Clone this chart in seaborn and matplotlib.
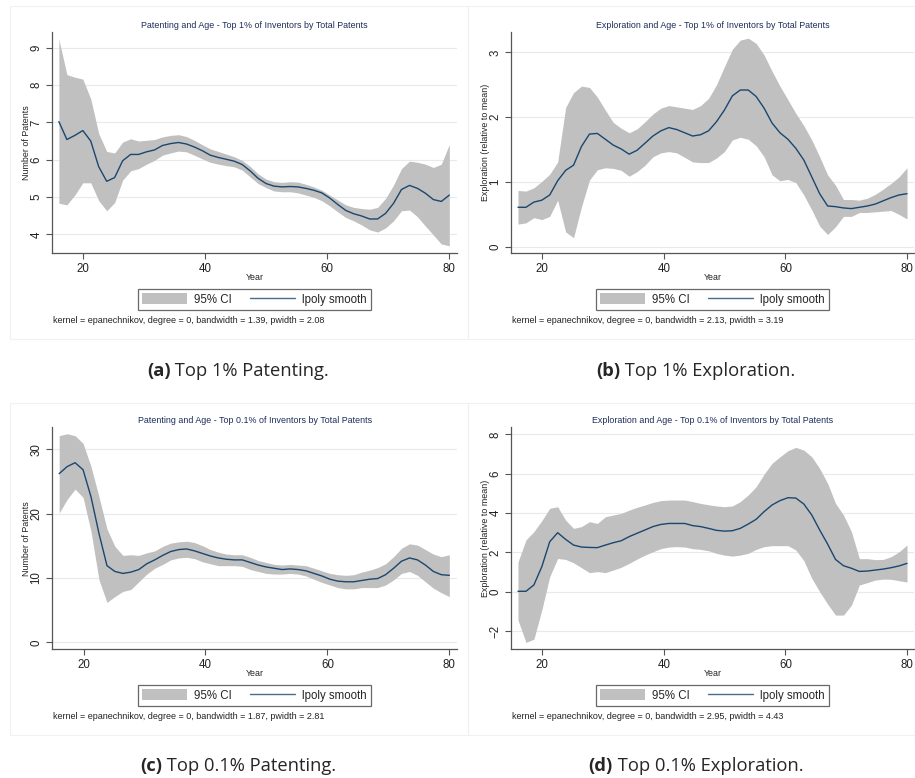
import numpy as np
import matplotlib
matplotlib.use("Agg")
import matplotlib.pyplot as plt
from matplotlib.patches import Patch, Rectangle
from matplotlib.lines import Line2D
import seaborn as sns

# Evaluation grid (age) shared by all four local-polynomial fits
ages = [16.0, 17.31, 18.61, 19.92, 21.22, 22.53, 23.84, 25.14, 26.45, 27.76,
        29.06, 30.37, 31.67, 32.98, 34.29, 35.59, 36.9, 38.2, 39.51, 40.82,
        42.12, 43.43, 44.73, 46.04, 47.35, 48.65, 49.96, 51.27, 52.57, 53.88,
        55.18, 56.49, 57.8, 59.1, 60.41, 61.71, 63.02, 64.33, 65.63, 66.94,
        68.24, 69.55, 70.86, 72.16, 73.47, 74.78, 76.08, 77.39, 78.69, 80.0]

# (a) Top 1% patenting
pat1_fit = [7.02, 6.54, 6.65, 6.78, 6.50, 5.81, 5.42, 5.52, 5.97, 6.14,
            6.14, 6.21, 6.26, 6.38, 6.43, 6.46, 6.42, 6.34, 6.24, 6.12,
            6.06, 6.01, 5.96, 5.87, 5.70, 5.50, 5.36, 5.29, 5.27, 5.28,
            5.27, 5.23, 5.18, 5.11, 4.97, 4.80, 4.64, 4.55, 4.49, 4.41,
            4.41, 4.56, 4.83, 5.20, 5.31, 5.23, 5.10, 4.93, 4.88, 5.05]
pat1_hi = [9.23, 8.28, 8.21, 8.16, 7.63, 6.70, 6.22, 6.18, 6.47, 6.56,
           6.50, 6.52, 6.54, 6.61, 6.65, 6.67, 6.62, 6.52, 6.40, 6.29,
           6.22, 6.15, 6.08, 5.98, 5.82, 5.62, 5.48, 5.41, 5.39, 5.41,
           5.40, 5.34, 5.27, 5.18, 5.05, 4.92, 4.79, 4.72, 4.69, 4.67,
           4.72, 4.96, 5.32, 5.76, 5.96, 5.93, 5.88, 5.79, 5.88, 6.41]
pat1_lo = [4.83, 4.79, 5.05, 5.38, 5.38, 4.90, 4.63, 4.85, 5.45, 5.70,
           5.76, 5.88, 5.98, 6.12, 6.18, 6.23, 6.21, 6.12, 6.02, 5.93,
           5.88, 5.84, 5.81, 5.72, 5.54, 5.36, 5.25, 5.16, 5.14, 5.14,
           5.11, 5.05, 4.99, 4.90, 4.76, 4.60, 4.45, 4.36, 4.25, 4.12,
           4.06, 4.17, 4.36, 4.63, 4.65, 4.47, 4.22, 3.98, 3.74, 3.69]

# (b) Top 1% exploration
exp1_fit = [0.61, 0.61, 0.69, 0.72, 0.80, 1.02, 1.18, 1.26, 1.55, 1.74,
            1.75, 1.66, 1.57, 1.51, 1.43, 1.49, 1.60, 1.71, 1.79, 1.84,
            1.81, 1.76, 1.71, 1.73, 1.79, 1.93, 2.11, 2.33, 2.42, 2.42,
            2.32, 2.14, 1.91, 1.76, 1.66, 1.52, 1.34, 1.08, 0.82, 0.63,
            0.62, 0.60, 0.59, 0.61, 0.63, 0.66, 0.71, 0.76, 0.80, 0.82]
exp1_hi = [0.87, 0.86, 0.91, 1.01, 1.12, 1.31, 2.15, 2.38, 2.48, 2.46,
           2.31, 2.11, 1.92, 1.83, 1.76, 1.82, 1.93, 2.05, 2.14, 2.18,
           2.16, 2.14, 2.12, 2.18, 2.29, 2.50, 2.78, 3.05, 3.19, 3.22,
           3.14, 2.96, 2.71, 2.48, 2.27, 2.06, 1.87, 1.65, 1.39, 1.11,
           0.95, 0.73, 0.73, 0.72, 0.75, 0.81, 0.89, 0.98, 1.08, 1.22]
exp1_lo = [0.35, 0.37, 0.45, 0.42, 0.47, 0.72, 0.23, 0.14, 0.62, 1.03,
           1.19, 1.22, 1.21, 1.18, 1.09, 1.16, 1.26, 1.39, 1.45, 1.47,
           1.45, 1.38, 1.31, 1.30, 1.30, 1.37, 1.47, 1.65, 1.69, 1.66,
           1.56, 1.39, 1.11, 1.02, 1.04, 0.99, 0.80, 0.57, 0.32, 0.19,
           0.31, 0.47, 0.47, 0.53, 0.53, 0.54, 0.55, 0.56, 0.50, 0.43]

# (c) Top 0.1% patenting
pat01_fit = [26.2, 27.3, 27.9, 26.8, 22.6, 16.9, 11.9, 11.0, 10.7, 10.9,
             11.3, 12.2, 12.8, 13.5, 14.1, 14.4, 14.5, 14.2, 13.8, 13.4,
             13.1, 12.9, 12.8, 12.8, 12.4, 12.0, 11.7, 11.5, 11.3, 11.4,
             11.3, 11.1, 10.7, 10.3, 9.8, 9.5, 9.4, 9.4, 9.6, 9.8,
             9.9, 10.5, 11.5, 12.6, 13.1, 12.8, 12.0, 11.0, 10.5, 10.4]
pat01_hi = [32.1, 32.4, 32.1, 30.9, 27.3, 22.6, 17.6, 14.9, 13.5, 13.6,
            13.5, 13.9, 14.2, 14.9, 15.4, 15.6, 15.7, 15.5, 15.0, 14.4,
            14.0, 13.7, 13.6, 13.6, 13.2, 12.7, 12.4, 12.1, 12.0, 12.1,
            12.0, 11.9, 11.5, 11.1, 10.7, 10.5, 10.4, 10.5, 10.9, 11.2,
            11.6, 12.2, 13.3, 14.6, 15.3, 15.1, 14.4, 13.7, 13.3, 13.6]
pat01_lo = [20.1, 22.2, 23.8, 22.5, 17.2, 9.7, 6.2, 7.1, 7.9, 8.2,
            9.4, 10.6, 11.5, 12.1, 12.8, 13.1, 13.2, 13.0, 12.5, 12.2,
            11.9, 11.9, 11.9, 11.8, 11.3, 11.0, 10.7, 10.6, 10.6, 10.7,
            10.6, 10.3, 9.8, 9.3, 8.9, 8.5, 8.3, 8.3, 8.5, 8.5,
            8.5, 8.9, 9.7, 10.7, 11.0, 10.4, 9.4, 8.4, 7.7, 7.1]

# (d) Top 0.1% exploration
exp01_fit = [0.02, 0.02, 0.34, 1.27, 2.54, 3.00, 2.66, 2.37, 2.27, 2.25,
             2.24, 2.37, 2.49, 2.59, 2.80, 2.97, 3.14, 3.31, 3.42, 3.47,
             3.47, 3.47, 3.36, 3.31, 3.22, 3.12, 3.08, 3.10, 3.22, 3.44,
             3.68, 4.07, 4.41, 4.63, 4.78, 4.76, 4.46, 3.90, 3.14, 2.42,
             1.64, 1.32, 1.19, 1.03, 1.05, 1.10, 1.15, 1.22, 1.31, 1.44]
exp01_hi = [1.51, 2.63, 3.05, 3.61, 4.24, 4.32, 3.64, 3.22, 3.31, 3.56,
            3.47, 3.81, 3.90, 3.98, 4.15, 4.29, 4.41, 4.54, 4.63, 4.66,
            4.66, 4.66, 4.58, 4.49, 4.42, 4.36, 4.32, 4.36, 4.58, 4.92,
            5.34, 5.98, 6.53, 6.86, 7.17, 7.34, 7.20, 6.86, 6.27, 5.51,
            4.49, 3.90, 3.05, 1.68, 1.68, 1.63, 1.64, 1.78, 2.03, 2.37]
exp01_lo = [-1.44, -2.58, -2.42, -0.93, 0.76, 1.69, 1.64, 1.47, 1.22, 0.97,
            1.02, 0.97, 1.10, 1.24, 1.44, 1.66, 1.86, 2.03, 2.19, 2.27,
            2.29, 2.27, 2.19, 2.15, 2.08, 1.95, 1.86, 1.81, 1.86, 1.95,
            2.15, 2.29, 2.34, 2.34, 2.34, 2.12, 1.58, 0.68, 0.00, -0.63,
            -1.19, -1.19, -0.68, 0.34, 0.46, 0.59, 0.64, 0.63, 0.56, 0.49]

titles = ["Patenting and Age - Top 1% of Inventors by Total Patents",
          "Exploration and Age - Top 1% of Inventors by Total Patents",
          "Patenting and Age - Top 0.1% of Inventors by Total Patents",
          "Exploration and Age - Top 0.1% of Inventors by Total Patents"]
ylabels = ["Number of Patents", "Exploration (relative to mean)",
           "Number of Patents", "Exploration (relative to mean)"]
yticks = [[4, 5, 6, 7, 8, 9], [0, 1, 2, 3], [0, 10, 20, 30], [-2, 0, 2, 4, 6, 8]]
xticks = [20, 40, 60, 80]
notes = ["kernel = epanechnikov, degree = 0, bandwidth = 1.39, pwidth = 2.08",
         "kernel = epanechnikov, degree = 0, bandwidth = 2.13, pwidth = 3.19",
         "kernel = epanechnikov, degree = 0, bandwidth = 1.87, pwidth = 2.81",
         "kernel = epanechnikov, degree = 0, bandwidth = 2.95, pwidth = 4.43"]
tags = ["(a)", "(b)", "(c)", "(d)"]
captions = [" Top 1% Patenting.", " Top 1% Exploration.",
            " Top 0.1% Patenting.", " Top 0.1% Exploration."]
legend_labels = ["95% CI", "lpoly smooth"]

series = [(pat1_fit, pat1_lo, pat1_hi), (exp1_fit, exp1_lo, exp1_hi),
          (pat01_fit, pat01_lo, pat01_hi), (exp01_fit, exp01_lo, exp01_hi)]

sns.set_theme(style="white")
plt.rcParams["font.family"] = ["Liberation Sans", "DejaVu Sans"]

W, H = 915, 778
fig = plt.figure(figsize=(W / 100, H / 100), dpi=100)
fig.patch.set_facecolor("white")

BAND = "#c0c0c0"
LINE = "#1a476f"
GRID = "#e3ebee"
AXC = "#555555"
TITLE_C = "#1c2c5a"
CAPTION_FONT = ["Open Sans", "DejaVu Sans"]

# pixel geometry of each panel: (axes left, right, top, bottom), limits, frame
panels = [
    dict(ax=(52, 457, 31.7, 253.3), xlim=(14.87, 81.26), ylim=(3.49, 9.43),
         frame=(10, 468, 6, 339), dy=0),
    dict(ax=(511.3, 914, 31.7, 253.3), xlim=(14.9, 81.15), ylim=(-0.10, 3.32),
         frame=(468, 915, 6, 339), dy=0),
    dict(ax=(52.3, 457, 427.3, 649.3), xlim=(14.87, 81.26), ylim=(-1.09, 33.4),
         frame=(10, 468, 403, 735), dy=396),
    dict(ax=(511.3, 914, 427.3, 649.3), xlim=(14.9, 81.15), ylim=(-2.93, 8.36),
         frame=(468, 915, 403, 735), dy=396),
]


def fx(px):
    return px / W


def fy(py):
    return 1 - py / H


renderer = fig.canvas.get_renderer()

for i, p in enumerate(panels):
    l, r, t, b = p["ax"]
    # faint outer frame of the graph region
    fl, fr, ft, fb = p["frame"]
    fig.patches.append(Rectangle((fx(fl), fy(fb)), fx(fr - fl), (fb - ft) / H,
                                 transform=fig.transFigure, fill=False,
                                 edgecolor="#f1f1f1", lw=0.8, zorder=0))

    ax = fig.add_axes([fx(l), fy(b), (r - l) / W, (b - t) / H])
    fit, lo, hi = series[i]
    ax.fill_between(ages, lo, hi, color=BAND, lw=0, zorder=1)
    sns.lineplot(x=ages, y=fit, ax=ax, color=LINE, lw=1.0, zorder=2)

    ax.set_xlim(*p["xlim"])
    ax.set_ylim(*p["ylim"])
    ax.set_xticks(xticks)
    ax.set_yticks(yticks[i])
    ax.grid(axis="y", color=GRID, lw=0.8, zorder=0)
    ax.set_axisbelow(True)
    for s in ["top", "right"]:
        ax.spines[s].set_visible(False)
    for s in ["left", "bottom"]:
        ax.spines[s].set_color(AXC)
        ax.spines[s].set_linewidth(0.9)
    ax.tick_params(axis="both", direction="out", length=4, width=0.8,
                   color=AXC, labelsize=8.3, labelcolor="#222222", pad=3,
                   left=True, bottom=True)
    for lab in ax.get_yticklabels():
        lab.set_rotation(90)
        lab.set_va("center")

    ax.set_title(titles[i], fontsize=6.4, color=TITLE_C, pad=3.0)
    ax.set_xlabel("Year", fontsize=6.4, color="#222222")
    ax.xaxis.set_label_coords(0.5, -(273 - 253.3) / (b - t))
    ax.set_ylabel(ylabels[i], fontsize=6.4, color="#222222")
    ax.yaxis.set_label_coords(-21.0 / (r - l), 0.5)

    handles = [Patch(facecolor=BAND, edgecolor="none"),
               Line2D([], [], color="#4a6a8e", lw=1.0)]
    cx = (l + r) / 2
    leg = ax.legend(handles, legend_labels, loc="center",
                    bbox_to_anchor=(fx(cx), fy(299.5 + p["dy"])),
                    bbox_transform=fig.transFigure, ncol=2, fontsize=8.3,
                    frameon=True, fancybox=False, handlelength=3.9,
                    handleheight=1.0, handletextpad=0.6, columnspacing=1.6,
                    borderpad=0.35, borderaxespad=0)
    leg.get_frame().set_edgecolor("#444444")
    leg.get_frame().set_linewidth(0.9)

    fig.text(fx(l + 1), fy(320.5 + p["dy"]), notes[i], fontsize=6.5,
             color="#222222", va="center", ha="left")

    # sub-figure caption: bold tag followed by regular text, centred as a whole
    ccx = 238 if i % 2 == 0 else 696
    cy = 376 if i < 2 else 771
    t1 = fig.text(0, fy(cy), tags[i], fontsize=13.2, fontweight="bold",
                  family=CAPTION_FONT, va="baseline", ha="left")
    t2 = fig.text(0, fy(cy), captions[i], fontsize=13.2,
                  family=CAPTION_FONT, va="baseline", ha="left")
    w1 = t1.get_window_extent(renderer).width
    w2 = t2.get_window_extent(renderer).width
    x0 = ccx - (w1 + w2) / 2
    t1.set_x(fx(x0))
    t2.set_x(fx(x0 + w1))

fig.savefig("out.png", dpi=100, facecolor="white")
